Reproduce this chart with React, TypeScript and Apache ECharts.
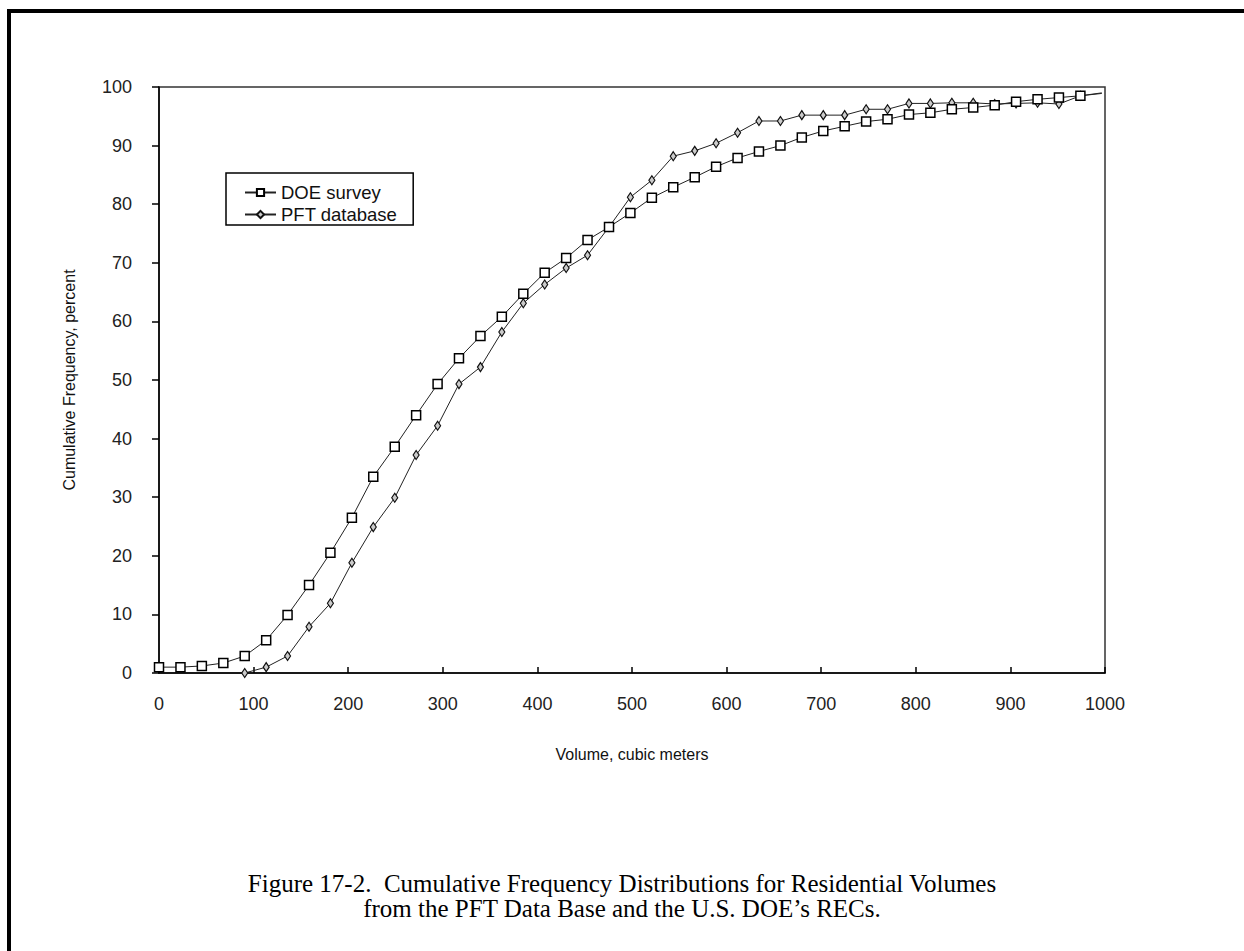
import React, { useEffect, useRef } from "react";
import * as echarts from "echarts";

// Volume grid (cubic meters) shared by both series
const volumes = [
  0, 22.7, 45.3, 68, 90.6, 113.3, 135.9, 158.6, 181.2, 203.9, 226.5, 249.2, 271.8,
  294.5, 317.1, 339.8, 362.4, 385.1, 407.7, 430.4, 453, 475.7, 498.3, 521, 543.6,
  566.3, 588.9, 611.6, 634.2, 656.9, 679.5, 702.2, 724.8, 747.5, 770.1, 792.8,
  815.4, 838.1, 860.7, 883.4, 906, 928.7, 951.3, 974, 996.6,
];

const doeSurvey = [
  1.0, 1.0, 1.2, 1.7, 2.9, 5.6, 9.9, 15.0, 20.5, 26.5, 33.5, 38.6, 44.0, 49.3,
  53.7, 57.5, 60.8, 64.7, 68.3, 70.8, 73.9, 76.1, 78.5, 81.1, 82.9, 84.6, 86.4,
  87.9, 89.0, 90.0, 91.4, 92.5, 93.3, 94.1, 94.5, 95.3, 95.6, 96.2, 96.5, 96.9,
  97.5, 97.9, 98.2, 98.5, 98.9,
];

// PFT database starts at the 5th volume point
const pftDatabase = [
  null, null, null, null, 0, 1.0, 2.9, 7.9, 11.9, 18.8, 24.9, 29.9, 37.2, 42.2,
  49.3, 52.2, 58.2, 63.1, 66.3, 69.1, 71.3, 76.1, 81.2, 84.1, 88.2, 89.1, 90.4,
  92.2, 94.2, 94.2, 95.2, 95.2, 95.2, 96.2, 96.2, 97.2, 97.2, 97.3, 97.3, 97.1,
  97.2, 97.3, 97.1, 98.5, 99.0,
];

const seriesNames = ["DOE survey", "PFT database"];
const xTicks = { min: 0, max: 1000, interval: 100 };
const yTicks = { min: 0, max: 100, interval: 10 };
const captionLines = [
  "Figure 17-2.  Cumulative Frequency Distributions for Residential Volumes",
  "from the PFT Data Base and the U.S. DOE\u2019s RECs.",
];

const FONT = "Liberation Sans, Arial, sans-serif";
const CAPTION_FONT = "25px 'Liberation Serif', 'Times New Roman', serif";

function buildData(values: (number | null)[]) {
  const out: any[] = [];
  values.forEach((v, i) => {
    if (v === null) return;
    const item: any = { value: [volumes[i], v] };
    if (i === values.length - 1) item.symbol = "none";
    out.push(item);
  });
  return out;
}

export default function App() {
  const ref = useRef<HTMLDivElement>(null);
  useEffect(() => {
    if (!ref.current) return;
    const chart = echarts.init(ref.current, null, { renderer: "svg" });
    chart.setOption({
      animation: false,
      backgroundColor: "#fff",
      textStyle: { fontFamily: FONT },
      grid: {
        left: 159,
        top: 87,
        right: 139,
        bottom: 278,
        show: true,
        borderColor: "#333",
        borderWidth: 1.5,
        backgroundColor: "transparent",
        outerBoundsMode: "none",
      },
      legend: {
        left: 226,
        top: 173,
        orient: "vertical",
        data: seriesNames,
        backgroundColor: "#fff",
        borderColor: "#000",
        borderWidth: 1.5,
        borderRadius: 0,
        padding: [10, 16, 1, 18],
        itemWidth: 31,
        itemHeight: 9,
        itemGap: 3,
        textStyle: { fontFamily: FONT, fontSize: 18.5, color: "#111", lineHeight: 18 },
        selectedMode: false,
      },
      xAxis: {
        type: "value",
        ...xTicks,
        name: "Volume, cubic meters",
        nameLocation: "middle",
        nameGap: 73,
        nameTextStyle: { fontFamily: FONT, fontSize: 16, color: "#111" },
        axisLine: { show: true, onZero: false, lineStyle: { color: "#000", width: 1.5 } },
        axisTick: { show: true, inside: true, length: 6, lineStyle: { color: "#000", width: 1.5 } },
        axisLabel: {
          fontFamily: FONT,
          fontSize: 18,
          color: "#222",
          margin: 22,
          formatter: (v: number) => String(v),
        },
        splitLine: { show: false },
      },
      yAxis: {
        type: "value",
        ...yTicks,
        name: "Cumulative Frequency, percent",
        nameLocation: "middle",
        nameGap: 82,
        nameTextStyle: { fontFamily: FONT, fontSize: 16, color: "#111" },
        axisLine: { show: true, lineStyle: { color: "#000", width: 1.5 } },
        axisTick: { show: true, inside: false, length: 7, lineStyle: { color: "#000", width: 1.5 } },
        axisLabel: {
          fontFamily: FONT,
          fontSize: 18,
          color: "#222",
          margin: 27,
          formatter: (v: number) => String(v),
        },
        splitLine: { show: false },
      },
      series: [
        {
          name: seriesNames[0],
          type: "line",
          data: buildData(doeSurvey),
          symbol: "rect",
          symbolSize: 9,
          showAllSymbol: true,
          itemStyle: { color: "#fff", borderColor: "#000", borderWidth: 1.5 },
          lineStyle: { color: "#222", width: 1 },
          clip: false,
          z: 3,
        },
        {
          name: seriesNames[1],
          type: "line",
          data: buildData(pftDatabase),
          symbol: "diamond",
          symbolSize: [6, 9],
          showAllSymbol: true,
          itemStyle: { color: "#ccc", borderColor: "#111", borderWidth: 1.2 },
          lineStyle: { color: "#222", width: 1 },
          clip: false,
          z: 2,
        },
      ],
      graphic: [
        { type: "rect", shape: { x: 7, y: 9, width: 4, height: 942 }, style: { fill: "#000" } },
        { type: "rect", shape: { x: 7, y: 9, width: 1237, height: 4 }, style: { fill: "#000" } },
        {
          type: "text",
          x: 622,
          y: 883,
          style: {
            text: captionLines[0],
            fill: "#000",
            font: CAPTION_FONT,
            align: "center",
            verticalAlign: "middle",
          },
        },
        {
          type: "text",
          x: 622,
          y: 908,
          style: {
            text: captionLines[1],
            fill: "#000",
            font: CAPTION_FONT,
            align: "center",
            verticalAlign: "middle",
          },
        },
      ],
    });
    return () => chart.dispose();
  }, []);
  return (
    <div
      ref={ref}
      style={{ position: "absolute", left: 0, top: 0, width: 1244, height: 951 }}
    />
  );
}
